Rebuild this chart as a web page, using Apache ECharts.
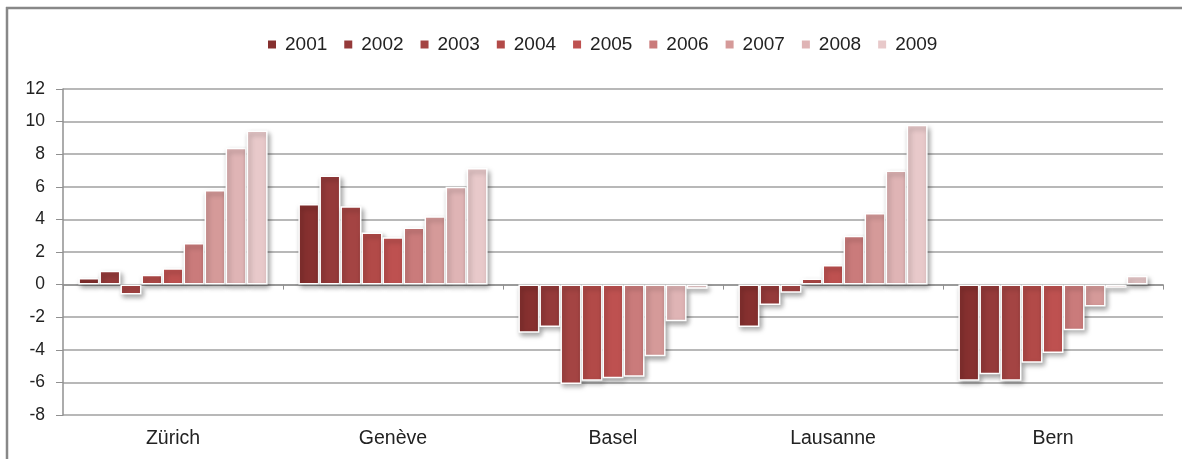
<!DOCTYPE html>
<html><head><meta charset="utf-8">
<script src="https://cdn.jsdelivr.net/npm/echarts@6/dist/echarts.min.js"></script>
<style>html,body{margin:0;padding:0;background:#fff;}#c{width:1182px;height:459px;}</style>
</head><body><div id="c"></div>
<script>
const cities = ['Zürich', 'Genève', 'Basel', 'Lausanne', 'Bern'];
const years = ['2001','2002','2003','2004','2005','2006','2007','2008','2009'];
const colors = ['#86302F','#953A3A','#A44443','#B24A48','#BE5150','#CA7B7B','#D59A99','#DFB4B5','#E8C9CA'];
const v2001 = [0.4, 4.95, -2.95, -2.6, -5.9];
const v2002 = [0.85, 6.7, -2.6, -1.25, -5.5];
const v2003 = [-0.6, 4.8, -6.1, -0.5, -5.9];
const v2004 = [0.6, 3.2, -5.9, 0.37, -4.8];
const v2005 = [1.0, 2.9, -5.75, 1.2, -4.2];
const v2006 = [2.55, 3.5, -5.65, 3.0, -2.8];
const v2007 = [5.8, 4.2, -4.4, 4.4, -1.35];
const v2008 = [8.4, 6.0, -2.25, 7.0, -0.2];
const v2009 = [9.45, 7.15, -0.25, 9.8, 0.55];
const values = [v2001, v2002, v2003, v2004, v2005, v2006, v2007, v2008, v2009];
const yTicks = { min: -8, max: 12, interval: 2 };

const font = 'Liberation Sans, Arial, sans-serif';
const chart = echarts.init(document.getElementById('c'));
chart.setOption({
  animation: false,
  color: colors,
  legend: {
    top: 30, left: 261,
    itemWidth: 10, itemHeight: 10, itemGap: 15,
    icon: 'rect',
    textStyle: { fontFamily: font, fontSize: 19, color: '#222', padding: [0,0,0,3] },
    data: years
  },
  grid: { left: 63, right: 19, top: 89, bottom: 44 },
  xAxis: [{
    type: 'category', data: cities,
    axisLine: { onZero: true, lineStyle: { color: '#909090', width: 1.5 } },
    axisTick: { show: true, length: 5, lineStyle: { color: '#909090' } },
    axisLabel: { show: false }
  }, {
    type: 'category', data: cities, position: 'bottom',
    axisLine: { show: false, onZero: false },
    axisTick: { show: false },
    axisLabel: { show: true, margin: 14, fontFamily: font, fontSize: 19.5, color: '#222' }
  }],
  yAxis: {
    type: 'value', min: yTicks.min, max: yTicks.max, interval: yTicks.interval,
    axisLine: { show: true, lineStyle: { color: '#909090', width: 1.5 } },
    axisTick: { show: true, length: 7, lineStyle: { color: '#909090' } },
    axisLabel: { fontFamily: font, fontSize: 17.5, color: '#222', margin: 18 },
    splitLine: { lineStyle: { color: '#a0a0a0', width: 1.5 } }
  },
  graphic: [
    { type: 'line', shape: { x1: 6, y1: 8, x2: 1182, y2: 8 }, style: { stroke: '#888', lineWidth: 2.5 }, silent: true },
    { type: 'line', shape: { x1: 7, y1: 7, x2: 7, y2: 459 }, style: { stroke: '#888', lineWidth: 2.5 }, silent: true }
  ],
  series: years.map((y, i) => ({
    name: y, type: 'bar', data: values[i],
    barGap: '0%', barCategoryGap: '14%',
    itemStyle: {
      color: colors[i], borderColor: '#fff', borderWidth: 1.5,
      shadowBlur: 5, shadowOffsetX: 2, shadowOffsetY: 3, shadowColor: 'rgba(0,0,0,0.35)'
    }
  }))
});
</script></body></html>
